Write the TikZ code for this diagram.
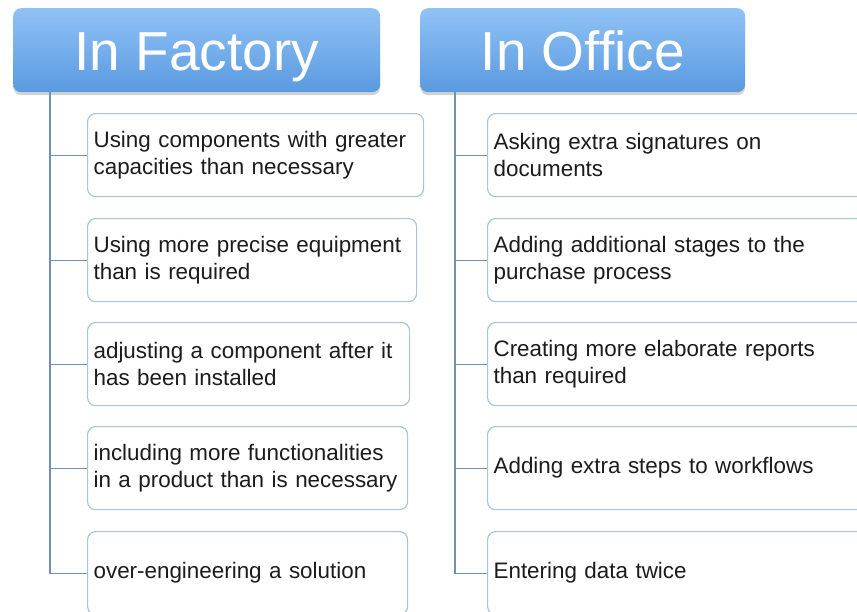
\documentclass[tikz,border=0pt]{standalone}
\usepackage{fontspec}
\setmainfont{Liberation Sans}
\usetikzlibrary{shadows}

\definecolor{headtop}{HTML}{90C2F5}
\definecolor{headbot}{HTML}{5A9AE0}
\definecolor{boxline}{HTML}{A9C4DB}
\definecolor{treeline}{HTML}{7092B0}
\definecolor{itemtext}{HTML}{1C1C1C}

\tikzset{
  headbox/.style={rounded corners=8pt, top color=headtop, bottom color=headbot,
    text=white, font=\fontsize{55}{60}\selectfont, minimum height=84pt,
    text height=44pt, text depth=4pt,
    anchor=north west, inner sep=0pt,
    drop shadow={shadow xshift=0pt, shadow yshift=-3pt, opacity=0.35}},
  itembox/.style={rounded corners=8pt, draw=boxline, line width=1.2pt, fill=white,
    anchor=north west, minimum height=83pt, inner xsep=6pt, align=left,
    font=\fontsize{22.4}{27}\selectfont, text=itemtext},
  branch/.style={draw=treeline, line width=1.2pt}
}

\begin{document}
\begin{tikzpicture}[x=1pt, y=-1pt]
\useasboundingbox (0,0) rectangle (857,611);
\clip (0,0) rectangle (857,611);

% headers
\node[headbox, minimum width=367pt] (fac) at (13,8) {In Factory};
\node[headbox, minimum width=325pt] (off) at (420,8) {In Office};

% factory items
\node[itembox, text width=324pt] (f1) at (87,113) {Using components with greater\\capacities than necessary};
\node[itembox, text width=317pt] (f2) at (87,218) {Using more precise equipment\\than is required};
\node[itembox, text width=310pt] (f3) at (87,322) {adjusting a component after it\\has been installed};
\node[itembox, text width=308pt] (f4) at (87,426) {including more functionalities\\in a product than is necessary};
\node[itembox, text width=308pt] (f5) at (87,531) {over-engineering a solution};

% office items
\node[itembox, text width=390pt] (o1) at (487,113) {Asking extra signatures on\\documents};
\node[itembox, text width=390pt] (o2) at (487,218) {Adding additional stages to the\\purchase process};
\node[itembox, text width=390pt] (o3) at (487,322) {Creating more elaborate reports\\than required};
\node[itembox, text width=390pt] (o4) at (487,426) {Adding extra steps to workflows};
\node[itembox, text width=390pt] (o5) at (487,531) {Entering data twice};

% tree lines
\coordinate (ftrunk) at (50,92);
\coordinate (otrunk) at (455,92);
\foreach \i in {1,...,5} {
  \draw[branch] (ftrunk) |- (f\i.west);
  \draw[branch] (otrunk) |- (o\i.west);
}
\end{tikzpicture}
\end{document}
